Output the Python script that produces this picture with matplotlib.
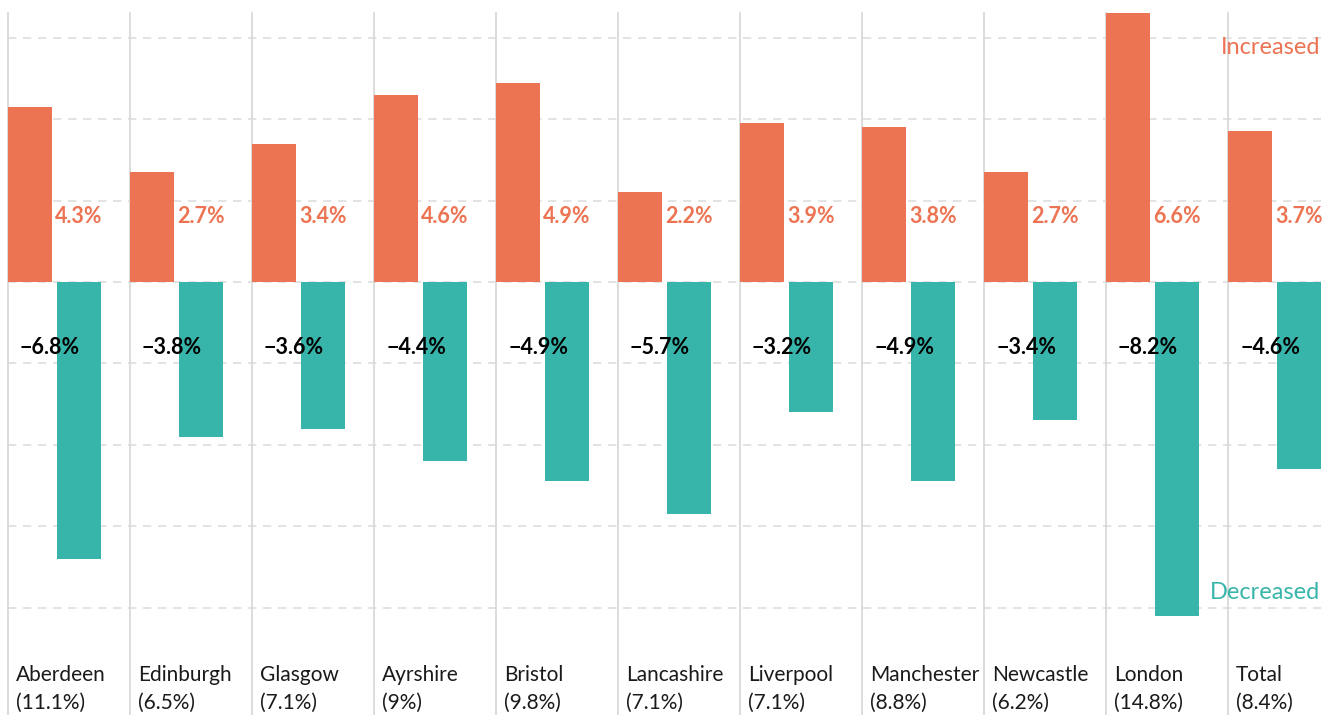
import matplotlib.pyplot as plt

plt.rcParams['font.family'] = ['Lato', 'DejaVu Sans']

regions = ["Aberdeen", "Edinburgh", "Glasgow", "Ayrshire", "Bristol", "Lancashire",
           "Liverpool", "Manchester", "Newcastle", "London", "Total"]
shares = ["11.1%", "6.5%", "7.1%", "9%", "9.8%", "7.1%", "7.1%", "8.8%", "6.2%", "14.8%", "8.4%"]
increased = [4.3, 2.7, 3.4, 4.6, 4.9, 2.2, 3.9, 3.8, 2.7, 6.6, 3.7]
decreased = [-6.8, -3.8, -3.6, -4.4, -4.9, -5.7, -3.2, -4.9, -3.4, -8.2, -4.6]

ORANGE = '#EC7453'
TEAL = '#38B5AA'
GRID = '#dedede'
BAR_W = 0.361
TEAL_OFF = 0.402
Y_TOP, Y_BOT = 6.61, -10.64

fig = plt.figure(figsize=(13.23, 7.15), dpi=100)
ax = fig.add_axes([8 / 1323, 0, 1315 / 1323, (715 - 13) / 715])
ax.set_xlim(0, 1315 / 122)
ax.set_ylim(Y_BOT, Y_TOP)
ax.axis('off')

# dashed horizontal guides every 2%
for g in [6, 4, 2, 0, -2, -4, -6, -8]:
    ax.plot([0, 10.76], [g, g], color=GRID, lw=1.2, ls=(0, (5, 4)), zorder=0)

# column separators
for i in range(len(regions)):
    ax.plot([i, i], [Y_BOT, Y_TOP], color='#d6d6d6', lw=1.2, zorder=0, clip_on=False)

for i, (name, share, up, down) in enumerate(zip(regions, shares, increased, decreased)):
    ax.bar(i, up, width=BAR_W, align='edge', color=ORANGE, zorder=2)
    ax.bar(i + TEAL_OFF, down, width=BAR_W, align='edge', color=TEAL, zorder=2)
    ax.text(i + TEAL_OFF + BAR_W / 2, 1.6, f"{up}%", color=ORANGE, fontsize=15.5,
            fontweight='bold', ha='center', va='center', zorder=3)
    ax.text(i + 0.345, -1.6, f"\u2212{abs(down)}%", color='black', fontsize=15.5,
            fontweight='bold', ha='center', va='center', zorder=3)
    ax.text(i + 0.066, -9.66, name, color='#1a1a1a', fontsize=15, ha='left', va='center')
    ax.text(i + 0.066, -10.34, f"({share})", color='#1a1a1a', fontsize=15, ha='left', va='center')

ax.text(10.755, 5.75, "Increased", color=ORANGE, fontsize=17, ha='right', va='center')
ax.text(10.755, -7.64, "Decreased", color=TEAL, fontsize=17, ha='right', va='center')

fig.savefig('out.png', dpi=100)
